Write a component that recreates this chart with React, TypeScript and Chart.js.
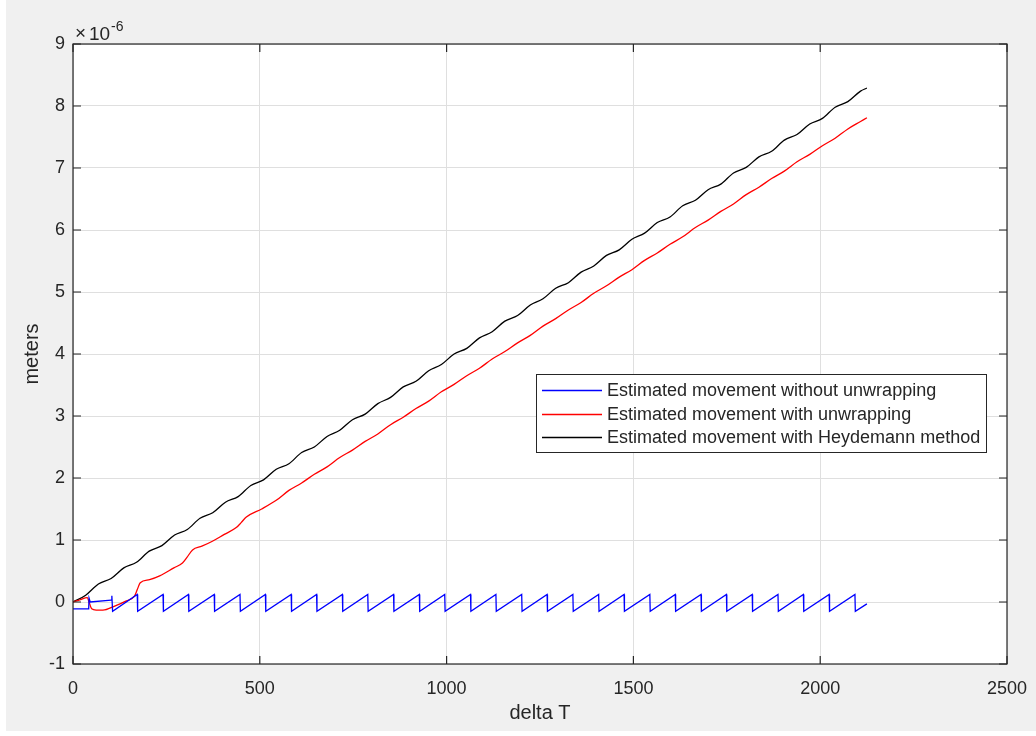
import React, { useEffect, useRef } from 'react';
import { Chart, registerables } from 'chart.js';

Chart.register(...registerables);

// ---------- data (values in units of 1e-6 m) ----------
const xTicks = [0, 500, 1000, 1500, 2000, 2500];
const yTicks = [-1, 0, 1, 2, 3, 4, 5, 6, 7, 8, 9];
const exponentText = '-6';
const xTitle = 'delta T';
const yTitle = 'meters';
const seriesLabels = [
  'Estimated movement without unwrapping',
  'Estimated movement with unwrapping',
  'Estimated movement with Heydemann method',
];
const seriesColors = ['#0000ff', '#ff0000', '#000000'];

const blueT = [
  0, 42, 43, 46, 102, 104, 106,
  172, 173, 241, 242, 309, 310, 378, 379, 447, 448, 515, 516, 584, 585,
  652, 653, 721, 722, 789, 790, 858, 859, 927, 928, 995, 996, 1064, 1065,
  1132, 1133, 1201, 1202, 1269, 1270, 1338, 1339, 1407, 1408, 1475, 1476,
  1544, 1545, 1612, 1613, 1681, 1682, 1749, 1750, 1818, 1819, 1887, 1888,
  1955, 1956, 2024, 2025, 2093, 2094, 2125,
];
const blueV = [
  -0.11, -0.11, 0.06, 0.0, 0.03, 0.10, -0.15,
  0.12, -0.15, 0.12, -0.15, 0.12, -0.15, 0.12, -0.15, 0.12, -0.15, 0.12, -0.15, 0.12, -0.15,
  0.12, -0.15, 0.12, -0.15, 0.12, -0.15, 0.12, -0.15, 0.12, -0.15, 0.12, -0.15, 0.12, -0.15,
  0.12, -0.15, 0.12, -0.15, 0.12, -0.15, 0.12, -0.15, 0.12, -0.15, 0.12, -0.15,
  0.12, -0.15, 0.12, -0.15, 0.12, -0.15, 0.12, -0.15, 0.12, -0.15, 0.12, -0.15,
  0.12, -0.15, 0.12, -0.15, 0.12, -0.15, -0.03,
];

const redT = [
  0, 20, 38, 44, 50, 62, 80, 110, 140, 165, 172, 180, 205, 232, 270, 293, 305, 320, 345, 373,
  405, 437, 450, 464, 505, 544,
  578, 612, 646, 680, 714, 748, 782, 816, 850, 884, 918, 952, 986, 1020, 1054, 1088, 1122,
  1156, 1190, 1224, 1258, 1292, 1326, 1360, 1394, 1428, 1462, 1496, 1530, 1564, 1598, 1632,
  1666, 1700, 1734, 1768, 1802, 1836, 1870, 1904, 1938, 1972, 2006, 2040, 2074, 2108, 2125,
];
const redV = [
  0, 0.04, 0.07, -0.02, -0.11, -0.13, -0.13, -0.07, 0.01, 0.10, 0.20, 0.31, 0.36, 0.42, 0.55,
  0.63, 0.72, 0.84, 0.90, 0.98, 1.09, 1.20, 1.28, 1.37, 1.50, 1.64,
  1.80, 1.92, 2.06, 2.18, 2.33, 2.45, 2.59, 2.71, 2.86, 2.98, 3.12, 3.24, 3.39, 3.51, 3.65,
  3.77, 3.92, 4.04, 4.18, 4.30, 4.45, 4.57, 4.71, 4.83, 4.98, 5.10, 5.24, 5.36, 5.51, 5.63,
  5.77, 5.89, 6.04, 6.16, 6.30, 6.42, 6.57, 6.69, 6.83, 6.95, 7.10, 7.22, 7.36, 7.48, 7.63,
  7.75, 7.81,
];

const blackT = [
  0, 34, 68, 102, 136, 170, 204, 238, 272, 306, 340, 374, 408, 442, 476, 510, 544, 578, 612,
  646, 680, 714, 748, 782, 816, 850, 884, 918, 952, 986, 1020, 1054, 1088, 1122, 1156, 1190,
  1224, 1258, 1292, 1326, 1360, 1394, 1428, 1462, 1496, 1530, 1564, 1598, 1632, 1666, 1700,
  1734, 1768, 1802, 1836, 1870, 1904, 1938, 1972, 2006, 2040, 2074, 2108, 2125,
];
const blackV = [
  0.0, 0.11, 0.29, 0.38, 0.55, 0.64, 0.82, 0.91, 1.08, 1.17, 1.35, 1.44, 1.61, 1.70, 1.88,
  1.97, 2.14, 2.23, 2.41, 2.50, 2.67, 2.77, 2.94, 3.03, 3.20, 3.30, 3.47, 3.56, 3.73, 3.83,
  4.00, 4.09, 4.26, 4.36, 4.53, 4.62, 4.79, 4.89, 5.06, 5.15, 5.32, 5.42, 5.59, 5.68, 5.85,
  5.95, 6.12, 6.21, 6.39, 6.48, 6.65, 6.74, 6.92, 7.01, 7.18, 7.27, 7.45, 7.54, 7.71, 7.80,
  7.98, 8.07, 8.24, 8.29,
];

// ---------- styling ----------
const FONT = "'Liberation Sans', Arial, Helvetica, sans-serif";
const TEXT = '#262626';
const W = 1036;
const H = 736;

const toPts = (xs: number[], ys: number[]) => xs.map((x, i) => ({ x, y: ys[i] }));

const decorPlugin = {
  id: 'decor',
  beforeDraw(chart: any) {
    const { ctx, chartArea: a } = chart;
    ctx.save();
    ctx.fillStyle = '#f0f0f0';
    ctx.fillRect(0, 0, W, H);
    ctx.fillStyle = '#ffffff';
    ctx.fillRect(0, 0, 6, H);
    ctx.fillRect(0, H - 5, W, 5);
    ctx.fillRect(a.left, a.top, a.right - a.left, a.bottom - a.top);
    ctx.restore();
  },
  afterDraw(chart: any) {
    const { ctx, chartArea: a, scales } = chart;
    const xs = scales.x;
    const ys = scales.y;
    ctx.save();
    // box
    ctx.strokeStyle = TEXT;
    ctx.lineWidth = 1.2;
    ctx.strokeRect(a.left, a.top, a.right - a.left, a.bottom - a.top);
    // inner ticks
    const tl = 8;
    ctx.beginPath();
    xs.ticks.forEach((t: any) => {
      const px = xs.getPixelForValue(t.value);
      ctx.moveTo(px, a.bottom);
      ctx.lineTo(px, a.bottom - tl);
      ctx.moveTo(px, a.top);
      ctx.lineTo(px, a.top + tl);
    });
    ys.ticks.forEach((t: any) => {
      const py = ys.getPixelForValue(t.value);
      ctx.moveTo(a.left, py);
      ctx.lineTo(a.left + tl, py);
      ctx.moveTo(a.right, py);
      ctx.lineTo(a.right - tl, py);
    });
    ctx.stroke();

    // axis titles
    ctx.fillStyle = TEXT;
    ctx.font = `20px ${FONT}`;
    ctx.textAlign = 'center';
    ctx.textBaseline = 'middle';
    ctx.fillText(xTitle, (a.left + a.right) / 2, 713);
    ctx.save();
    ctx.translate(32, (a.top + a.bottom) / 2);
    ctx.rotate(-Math.PI / 2);
    ctx.fillText(yTitle, 0, 0);
    ctx.restore();

    // exponent label
    ctx.textAlign = 'left';
    ctx.textBaseline = 'alphabetic';
    ctx.font = `19px ${FONT}`;
    ctx.fillText('\u00d7', 75, 39);
    ctx.fillText('10', 89, 40);
    ctx.font = `14px ${FONT}`;
    ctx.fillText(exponentText, 111, 31);

    // legend
    const lx = 536, ly = 374, lw = 450, lh = 78;
    ctx.fillStyle = '#ffffff';
    ctx.fillRect(lx, ly, lw, lh);
    ctx.strokeStyle = TEXT;
    ctx.lineWidth = 1;
    ctx.strokeRect(lx + 0.5, ly + 0.5, lw, lh);
    const rowY = [16, 39.5, 63];
    chart.data.datasets.forEach((ds: any, i: number) => {
      const y = Math.round(ly + rowY[i]) + 0.5;
      ctx.strokeStyle = seriesColors[i];
      ctx.lineWidth = 1.3;
      ctx.beginPath();
      ctx.moveTo(lx + 6, y);
      ctx.lineTo(lx + 66, y);
      ctx.stroke();
      ctx.fillStyle = TEXT;
      ctx.font = `18px ${FONT}`;
      ctx.textBaseline = 'middle';
      ctx.fillText(ds.label, lx + 71, y + 1);
    });
    ctx.restore();
  },
};

export default function App() {
  const ref = useRef<HTMLCanvasElement | null>(null);

  useEffect(() => {
    document.body.style.margin = '0';
    const canvas = ref.current!;
    const tickFont = { family: FONT, size: 18 };
    const fmt = (v: any) => String(v);
    const chart = new Chart(canvas, {
      type: 'line',
      data: {
        datasets: [
          {
            label: seriesLabels[0],
            data: toPts(blueT, blueV),
            borderColor: seriesColors[0],
            borderWidth: 1.3,
            pointRadius: 0,
            tension: 0,
            fill: false,
          },
          {
            label: seriesLabels[1],
            data: toPts(redT, redV),
            borderColor: seriesColors[1],
            borderWidth: 1.3,
            pointRadius: 0,
            cubicInterpolationMode: 'monotone',
            fill: false,
          },
          {
            label: seriesLabels[2],
            data: toPts(blackT, blackV),
            borderColor: seriesColors[2],
            borderWidth: 1.3,
            pointRadius: 0,
            cubicInterpolationMode: 'monotone',
            fill: false,
          },
        ],
      },
      options: {
        responsive: false,
        animation: false,
        devicePixelRatio: 1,
        layout: { padding: { top: 44, right: 29, bottom: 0, left: 0 } },
        plugins: { legend: { display: false }, tooltip: { enabled: false } },
        scales: {
          x: {
            type: 'linear',
            min: 0,
            max: 2500,
            afterBuildTicks: (s: any) => {
              s.ticks = xTicks.map((v) => ({ value: v }));
            },
            afterFit: (s: any) => {
              s.height = 72;
              s.paddingLeft = 0;
              s.paddingRight = 0;
            },
            grid: { color: '#dfdfdf', drawTicks: false, lineWidth: 1 },
            border: { display: false },
            ticks: { font: tickFont, color: TEXT, padding: 14, maxRotation: 0, autoSkip: false, callback: fmt },
          },
          y: {
            type: 'linear',
            min: -1,
            max: 9,
            afterBuildTicks: (s: any) => {
              s.ticks = yTicks.map((v) => ({ value: v }));
            },
            afterFit: (s: any) => {
              s.width = 73;
              s.paddingTop = 0;
              s.paddingBottom = 0;
            },
            grid: { color: '#dfdfdf', drawTicks: false, lineWidth: 1 },
            border: { display: false },
            ticks: { font: tickFont, color: TEXT, padding: 8, autoSkip: false, callback: fmt },
          },
        },
      } as any,
      plugins: [decorPlugin],
    });
    return () => chart.destroy();
  }, []);

  return (
    <div style={{ position: 'fixed', left: 0, top: 0, width: W, height: H }}>
      <canvas ref={ref} width={W} height={H} style={{ display: 'block', width: W, height: H }} />
    </div>
  );
}
